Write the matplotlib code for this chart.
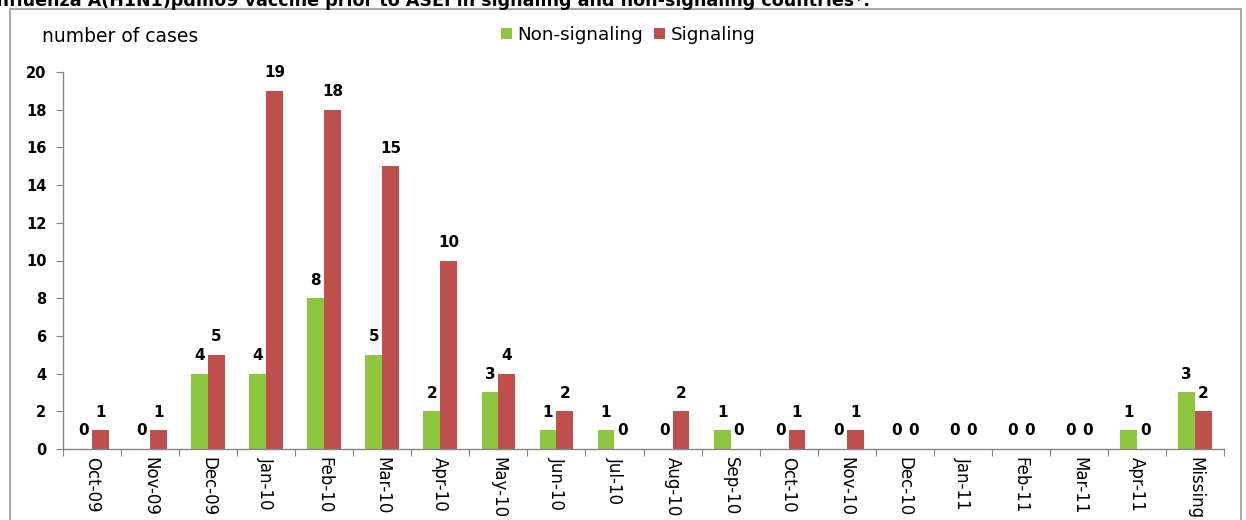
import matplotlib
matplotlib.use("Agg")
import matplotlib.pyplot as plt
from matplotlib.patches import Rectangle
import numpy as np

months = ["Oct-09", "Nov-09", "Dec-09", "Jan-10", "Feb-10", "Mar-10", "Apr-10",
          "May-10", "Jun-10", "Jul-10", "Aug-10", "Sep-10", "Oct-10", "Nov-10",
          "Dec-10", "Jan-11", "Feb-11", "Mar-11", "Apr-11", "Missing"]
non_signaling = [0, 0, 4, 4, 8, 5, 2, 3, 1, 1, 0, 1, 0, 0, 0, 0, 0, 0, 1, 3]
signaling = [1, 1, 5, 19, 18, 15, 10, 4, 2, 0, 2, 0, 1, 1, 0, 0, 0, 0, 0, 2]
yticks = list(range(0, 21, 2))

title = "Influenza A(H1N1)pdm09 vaccine prior to ASEI in signaling and non-signaling countries*."

GREEN = "#8DC63F"
RED = "#C0504D"
W, H = 1246, 520

fig = plt.figure(figsize=(W / 100, H / 100), dpi=100)
fig.patch.set_facecolor("white")

# outer chart frame
fig.patches.append(Rectangle((10 / W, -0.1), (1241 - 10) / W, 1.1 - 9 / H,
                             transform=fig.transFigure, fill=False,
                             edgecolor="#9a9a9a", linewidth=1.2))

# heading, partly above the top edge
fig.text(-10 / W, 1 - 6 / H, title, ha="left", va="baseline",
         fontsize=12.6, fontweight="bold", family="DejaVu Sans")

ax = fig.add_axes([63 / W, 71 / H, (1224 - 63) / W, (449 - 72) / H])
x = np.arange(len(months)) + 0.5
bw = 0.29
b1 = ax.bar(x - bw / 2, non_signaling, bw, color=GREEN, label="Non-signaling")
b2 = ax.bar(x + bw / 2, signaling, bw, color=RED, label="Signaling")

for bars, vals in ((b1, non_signaling), (b2, signaling)):
    for rect, v in zip(bars, vals):
        ax.annotate(str(v), (rect.get_x() + rect.get_width() / 2, v),
                    xytext=(0, 13), textcoords="offset points",
                    ha="center", va="center", fontsize=11,
                    fontweight="bold", family="DejaVu Sans", annotation_clip=False)

ax.set_xlim(0, len(months))
ax.set_ylim(0, 20)
ax.set_yticks(yticks)
ax.set_yticklabels([str(t) for t in yticks], fontsize=10.5, fontweight="bold",
                   family="DejaVu Sans")
ax.set_xticks(np.arange(len(months) + 1))
ax.set_xticklabels([])
ax.set_xticks(x, minor=True)
ax.set_xticklabels(months, minor=True, rotation=270, fontsize=12,
                   family=["Liberation Sans Narrow", "DejaVu Sans"])
ax.tick_params(axis="x", which="major", length=5, direction="out", color="#868686")
ax.tick_params(axis="x", which="minor", length=0, pad=6)
ax.tick_params(axis="y", length=5, direction="out", color="#868686", pad=7)
for s in ("top", "right"):
    ax.spines[s].set_visible(False)
for s in ("left", "bottom"):
    ax.spines[s].set_color("#868686")
    ax.spines[s].set_linewidth(1.0)

fig.text(42 / W, 1 - 37 / H, "number of cases", ha="left", va="center",
         fontsize=13.5, family="DejaVu Sans")

leg = fig.legend(handles=[b1, b2], loc="center left",
                 bbox_to_anchor=(484 / W, 1 - 35 / H), ncol=2, frameon=False,
                 handlelength=0.6, handleheight=0.6, handletextpad=0.3,
                 columnspacing=0.6,
                 prop={"family": ["Liberation Sans Narrow", "DejaVu Sans"], "size": 13.2})

fig.savefig("out.png", dpi=100)
